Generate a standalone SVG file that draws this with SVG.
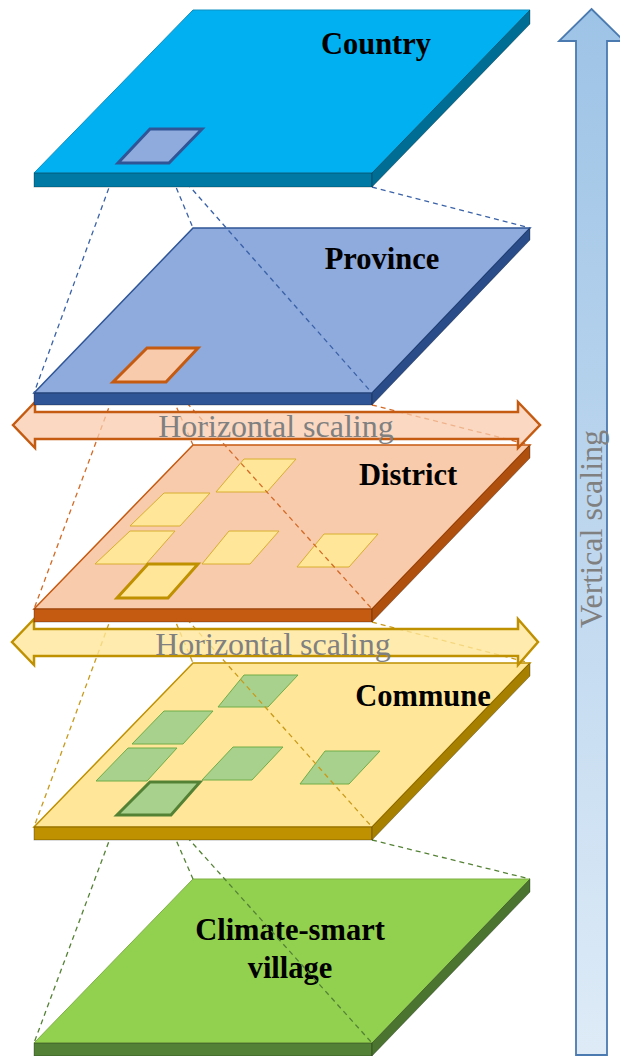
<svg xmlns="http://www.w3.org/2000/svg" width="620" height="1056" viewBox="0 0 620 1056">
<defs>
<linearGradient id="vgrad" x1="0" y1="0" x2="0" y2="1">
<stop offset="0" stop-color="#9DC3E6"/>
<stop offset="1" stop-color="#DEEBF7"/>
</linearGradient>
<style>
.lbl{font-family:"Liberation Serif","Times New Roman",serif;font-weight:bold;font-size:30.5px;fill:#000;text-anchor:middle}
.scl{font-family:"Liberation Serif","Times New Roman",serif;font-size:32px;fill:#808080;text-anchor:middle}
.edge{stroke:#000;stroke-opacity:0.35;stroke-width:0.8}
.dash{fill:none;stroke-width:1.3;stroke-dasharray:5 4}
.sqD{fill:#FFE699;stroke:#D9AE2E;stroke-width:1}
.sqC{fill:#A9D18E;stroke:#70AD47;stroke-width:1}
</style>
</defs>
<rect width="620" height="1056" fill="#fff"/>

<g id="vertical-arrow">
<polygon points="591.5,9 624,41 607,41 607,1055 576,1055 576,41 559,41" fill="url(#vgrad)" stroke="#4A7AB0" stroke-width="1.8"/>
<text class="scl" transform="translate(602,529) rotate(-90)" x="0" y="0">Vertical scaling</text>
</g>

<g id="village">
<polygon points="193,879 530,879 372,1043 34,1043" fill="#92D050" stroke="#7FB045" stroke-width="1"/>
<rect x="34" y="1043" width="338" height="13" fill="#538135" class="edge"/>
<polygon points="372,1043 530,879 530,892 372,1056" fill="#4A742F" class="edge"/>
<text class="lbl" x="290" y="940">Climate-smart</text>
<text class="lbl" x="290" y="978">village</text>
</g>

<g id="connectors-commune-village" stroke="#548235" class="dash">
<line x1="118" y1="817" x2="34" y2="1043"/>
<line x1="166" y1="817" x2="193" y2="879"/>
<line x1="169" y1="817" x2="372" y2="1043"/>
<line x1="372" y1="840" x2="530" y2="879"/>
</g>

<g id="commune">
<polygon points="193,663 530,663 372,827 34,827" fill="#FFE699" stroke="#BF9000" stroke-width="1.5"/>
<rect x="34" y="827" width="338" height="13" fill="#BF9000" class="edge"/>
<polygon points="372,827 530,663 530,676 372,840" fill="#A88000" class="edge"/>
<polygon class="sqC" points="244,675 298,675 268,707 218,707"/>
<polygon class="sqC" points="164,711 213,711 183,744 132,744"/>
<polygon class="sqC" points="128,748 177,748 147,781 96,781"/>
<polygon class="sqC" points="233,747 283,747 252,780 202,780"/>
<polygon class="sqC" points="325,751 380,751 349,784 300,784"/>
<polygon points="150,782 200,782 171,815 117,815" fill="#A9D18E" stroke="#548235" stroke-width="3"/>
<text class="lbl" x="423" y="706">Commune</text>
</g>

<g id="connectors-district-commune" stroke="#C99A1A" class="dash">
<line x1="118" y1="599" x2="34" y2="827"/>
<line x1="166" y1="599" x2="193" y2="663"/>
<line x1="169" y1="599" x2="372" y2="827"/>
<line x1="372" y1="622" x2="530" y2="663"/>
</g>

<g id="h-arrow-2">
<polygon points="12,642 34,619 34,629 518,629 518,619 538,642 518,665 518,656 34,656 34,665" fill="#FFE699" fill-opacity="0.8" stroke="#BF9000" stroke-width="2.5" stroke-linejoin="miter"/>
<text class="scl" x="273" y="655">Horizontal scaling</text>
</g>

<g id="district">
<polygon points="193,445 530,445 372,609 34,609" fill="#F8CBAD" stroke="#C55A11" stroke-width="1.5"/>
<rect x="34" y="609" width="338" height="13" fill="#C55A11" class="edge"/>
<polygon points="372,609 530,445 530,458 372,622" fill="#B0500F" class="edge"/>
<polygon class="sqD" points="244,459 296,459 267,492 216,492"/>
<polygon class="sqD" points="164,493 210,493 180,526 130,526"/>
<polygon class="sqD" points="130,531 175,531 146,564 95,564"/>
<polygon class="sqD" points="229,531 279,531 250,564 202,564"/>
<polygon class="sqD" points="324,534 378,534 349,567 297,567"/>
<polygon points="148,564 198,564 168,598 117,598" fill="#FFE699" stroke="#BF9000" stroke-width="3"/>
<text class="lbl" x="408" y="485">District</text>
</g>

<g id="connectors-province-district" stroke="#D46A25" class="dash">
<line x1="118" y1="383" x2="34" y2="609"/>
<line x1="166" y1="383" x2="193" y2="445"/>
<line x1="169" y1="383" x2="372" y2="609"/>
<line x1="372" y1="405" x2="530" y2="445"/>
</g>

<g id="h-arrow-1">
<polygon points="13,425 35,402 35,412 518,412 518,402 540,425 518,448 518,439 35,439 35,448" fill="#F8CBAD" fill-opacity="0.75" stroke="#C55A11" stroke-width="2.5"/>
<text class="scl" x="276" y="437">Horizontal scaling</text>
</g>

<g id="province">
<polygon points="193,228 530,228 372,393 34,393" fill="#8FAADC" stroke="#2F5597" stroke-width="1.5"/>
<rect x="34" y="393" width="338" height="12" fill="#2F5597" class="edge"/>
<polygon points="372,393 530,228 530,240 372,405" fill="#2A4C88" class="edge"/>
<polygon points="147,348 198,348 166,382 113,382" fill="#F8CBAD" stroke="#C55A11" stroke-width="3"/>
<text class="lbl" x="382" y="269">Province</text>
</g>

<g id="connectors-country-province" stroke="#3A62A8" class="dash">
<line x1="118" y1="163" x2="34" y2="393"/>
<line x1="166" y1="163" x2="193" y2="228"/>
<line x1="169" y1="163" x2="372" y2="393"/>
<line x1="372" y1="187" x2="530" y2="228"/>
</g>

<g id="country">
<polygon points="193,10 530,10 372,173 34,173" fill="#00B0F0" stroke="#0E8FC0" stroke-width="1"/>
<rect x="34" y="173" width="338" height="14" fill="#007AA5" class="edge"/>
<polygon points="372,173 530,10 530,24 372,187" fill="#006D94" class="edge"/>
<polygon points="150,129 202,129 169,163 118,163" fill="#8FAADC" stroke="#2F5597" stroke-width="3"/>
<text class="lbl" x="376" y="54">Country</text>
</g>
</svg>
